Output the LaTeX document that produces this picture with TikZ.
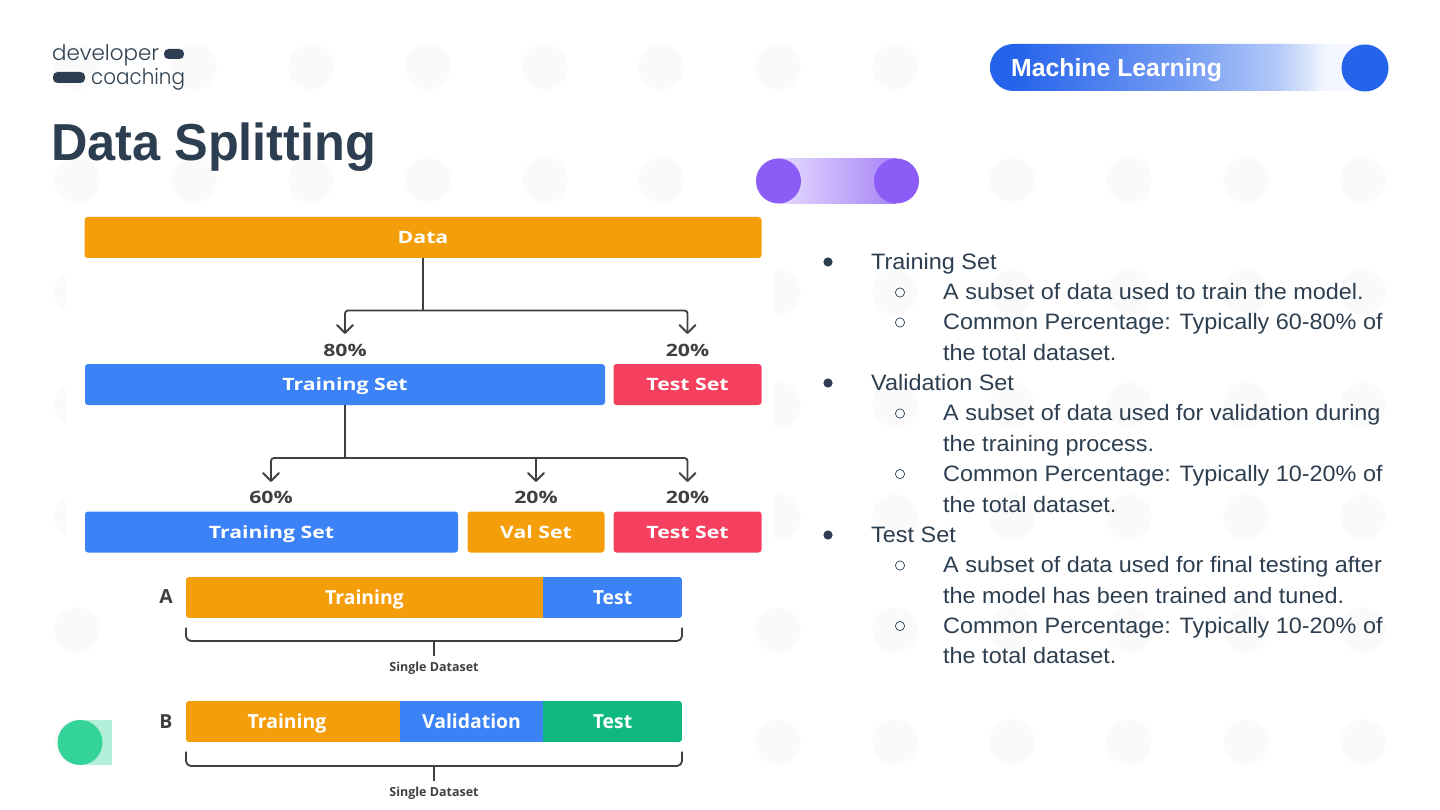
\documentclass[tikz,border=0pt]{standalone}
\usepackage{fontspec}
\setmainfont{Liberation Sans}
\newfontfamily\bodyf[FakeStretch=1.05]{Liberation Sans}
\newfontfamily\titlef[FakeStretch=0.97]{Liberation Sans}
\newfontfamily\opensans{Open Sans}
\newfontfamily\opensansw[FakeStretch=1.25]{Open Sans}
\newfontfamily\logofont{Poppins Light}
\newfontfamily\logofontn[FakeStretch=0.93]{Poppins Light}
\usetikzlibrary{calc}
\definecolor{ink}{HTML}{2C3E50}
\definecolor{dotc}{HTML}{FAFAFA}
\definecolor{orangeb}{HTML}{F59E0B}
\definecolor{blueb}{HTML}{3B82F6}
\definecolor{redb}{HTML}{F43F5E}
\definecolor{greenb}{HTML}{10B981}
\definecolor{pillb}{HTML}{2563EB}
\definecolor{purp}{HTML}{8B5CF6}
\definecolor{greenc}{HTML}{34D399}
\definecolor{linec}{HTML}{404040}
\pgfdeclarehorizontalshading{pillshade}{100bp}{
  color(0bp)=(pillb); color(28bp)=(pillb); color(50bp)=(pillb!62!white);
  color(61bp)=(pillb!35!white); color(67bp)=(pillb!6!white); color(100bp)=(white)}
\tikzset{
  x=1pt,y=-1pt,
  bgdot/.style={fill=dotc,draw=none,circle,minimum size=45pt,inner sep=0},
  bar/.style={fill=#1,draw=none,rounded corners=3pt,text=white,inner sep=0,text height=12pt,text depth=0pt,font=\opensansw\bfseries\fontsize{17}{17}\selectfont},
  pct/.style={text=linec,font=\opensansw\bfseries\fontsize{17}{17}\selectfont,inner sep=0,text height=12pt,text depth=0pt},
  conn/.style={draw=linec,line width=1.8pt,rounded corners=3pt},
  arr/.style={draw=linec,line width=1.8pt},
  lab/.style={text=white,inner sep=0,text height=14pt,text depth=0pt,font=\opensans\bfseries\fontsize{19.4}{19}\selectfont},
  small/.style={text=linec,inner sep=0,text height=9pt,text depth=0pt,font=\opensans\bfseries\fontsize{12.5}{12.5}\selectfont},
  body/.style={text=ink,anchor=base west,inner sep=0,font=\bodyf\fontsize{22.3}{22}\selectfont},
  sbul/.style={draw=ink,line width=.7pt},
}
\newcommand{\arrowhd}[1]{\draw[arr,line join=round,line cap=round] ($(#1)+(-8,-8)$) -- (#1) -- ($(#1)+(8,-8)$);}
\begin{document}
\begin{tikzpicture}
\useasboundingbox (0,0) rectangle (1440,810);
\fill[white] (0,0) rectangle (1440,810);
% background dots
\foreach \yy in {67,180,292,405,517,630,742}
  \foreach \xx in {77,194,311,428,545,661,778,895,1012,1129,1246,1363}
    \node[bgdot] at (\xx,\yy) {};
% white masks (behind pasted images)
\fill[white] (65,205) rectangle (775,565);
\fill[white] (113,565) rectangle (740,810);
% logo
\node[anchor=base west,inner sep=0,text=ink,font=\logofont\fontsize{21.4}{22}\selectfont] (logo1) at (52,61) {developer};
\node[anchor=base west,inner sep=0,text=ink,font=\logofontn\fontsize{21.4}{22}\selectfont] (logo2) at (91,84.5) {coaching};
\fill[ink,rounded corners=4.5pt] (164,49) rectangle (184,59);
\fill[ink,rounded corners=4.5pt] (53,72) rectangle (85,83);
% title
\node[anchor=base west,inner sep=0,text=ink,font=\titlef\bfseries\fontsize{52}{52}\selectfont] (title) at (51,161) {Data Splitting};
% pill
\shade[shading=pillshade,rounded corners=23.5pt] (990,44) rectangle (1389,91);
\node[circle,fill=pillb,minimum size=47pt,inner sep=0] (pilld) at (1365,68) {};
\node[anchor=base west,inner sep=0,text=white,font=\bfseries\fontsize{24.8}{25}\selectfont] (pillt) at (1011,76.6) {Machine Learning};
% purple
\fill[left color=purp!22,right color=purp!75] (778,158.5) rectangle (896,203.5);
\node[circle,fill=purp,minimum size=45pt,inner sep=0] (p1) at (778.5,181) {};
\node[circle,fill=purp,minimum size=45pt,inner sep=0] (p2) at (896.5,181) {};
% green
\fill[greenc!38] (80,720) rectangle (112,765);
\node[circle,fill=greenc,minimum size=45pt,inner sep=0] (g1) at (80,742.5) {};
% flow bars
\node[bar=orangeb,minimum width=677pt,minimum height=41pt] (data) at (423,237.5) {Data};
\node[bar=blueb,minimum width=520pt,minimum height=41pt] (ts1) at (345,384.5) {Training Set};
\node[bar=redb,minimum width=148pt,minimum height=41pt] (te1) at (687.5,384.5) {Test Set};
\node[bar=blueb,minimum width=373pt,minimum height=41pt] (ts2) at (271.5,532) {Training Set};
\node[bar=orangeb,minimum width=137pt,minimum height=41pt] (val) at (536,532) {Val Set};
\node[bar=redb,minimum width=148pt,minimum height=41pt] (te2) at (687.5,532) {Test Set};
\node[pct] (p80) at (345,350.5) {80\%};
\node[pct] (p20a) at (687.5,350.5) {20\%};
\node[pct] (p60) at (271,497.5) {60\%};
\node[pct] (p20b) at (536,497.5) {20\%};
\node[pct] (p20c) at (687.5,497.5) {20\%};
\coordinate (a1) at (345,333);
\coordinate (a2) at (687.5,333);
\coordinate (b1) at (271,481);
\coordinate (b2) at (536,481);
\coordinate (b3) at (687.5,481);
\draw[conn] (a1) -- (345,310.5) -- (687.5,310.5) -- (a2);
\draw[arr] (data.south) -- (423,310.5);
\draw[conn] (b1) -- (271,458) -- (687.5,458) -- (b3);
\draw[arr] (b2) -- (536,458);
\draw[arr] (ts1.south) -- (345,458);
\arrowhd{a1}\arrowhd{a2}\arrowhd{b1}\arrowhd{b2}\arrowhd{b3}
% A
\node[lab,text=linec] (la) at (166,596.5) {A};
\begin{scope}
\clip[rounded corners=3pt] (186,577) rectangle (682,618);
\fill[orangeb] (186,577) rectangle (543,618);
\fill[blueb] (543,577) rectangle (682,618);
\end{scope}
\node[lab] (atr) at (364.5,597) {Training};
\node[lab] (ate) at (612.5,597) {Test};
\coordinate (abl) at (186,627.5); \coordinate (abr) at (682,627.5); \coordinate (abm) at (434,656);
\draw[conn,rounded corners=5pt] (abl) -- (186,641) -- (682,641) -- (abr);
\draw[arr] (434,641) -- (abm);
\node[small] (as) at (434,667) {Single Dataset};
% B
\node[lab,text=linec] (lb) at (166,721.5) {B};
\begin{scope}
\clip[rounded corners=3pt] (186,701) rectangle (682,742);
\fill[orangeb] (186,701) rectangle (400,742);
\fill[blueb] (400,701) rectangle (543,742);
\fill[greenb] (543,701) rectangle (682,742);
\end{scope}
\node[lab] (btr) at (287,721.5) {Training};
\node[lab] (bva) at (471.5,721.5) {Validation};
\node[lab] (bte) at (612.5,721.5) {Test};
\coordinate (bbl) at (186,751.5); \coordinate (bbr) at (682,751.5); \coordinate (bbm) at (434,781);
\draw[conn,rounded corners=5pt] (bbl) -- (186,766) -- (682,766) -- (bbr);
\draw[arr] (434,766) -- (bbm);
\node[small] (bs) at (434,792) {Single Dataset};
% text list
\fill[ink] (828,262) circle (4.6pt);
\node[body] at (871,269.6) {Training Set};
\draw[sbul] (900,292.5) circle (4.6pt);
\node[body] at (943,299) {A subset of data used to train the model.};
\draw[sbul] (900,322.5) circle (4.6pt);
\node[body] at (943,329) {Common Percentage: Typically 60-80\% of};
\node[body] at (943,360) {the total dataset.};
\fill[ink] (828,383) circle (4.6pt);
\node[body] at (871,390) {Validation Set};
\draw[sbul] (900,413.5) circle (4.6pt);
\node[body] at (943,420) {A subset of data used for validation during};
\node[body] at (943,451) {the training process.};
\draw[sbul] (900,474) circle (4.6pt);
\node[body] at (943,481) {Common Percentage: Typically 10-20\% of};
\node[body] at (943,512) {the total dataset.};
\fill[ink] (828,535) circle (4.6pt);
\node[body] at (871,542) {Test Set};
\draw[sbul] (900,565.5) circle (4.6pt);
\node[body] at (943,572) {A subset of data used for final testing after};
\node[body] at (943,603) {the model has been trained and tuned.};
\draw[sbul] (900,626) circle (4.6pt);
\node[body] at (943,633) {Common Percentage: Typically 10-20\% of};
\node[body] at (943,663) {the total dataset.};
\end{tikzpicture}
\end{document}
